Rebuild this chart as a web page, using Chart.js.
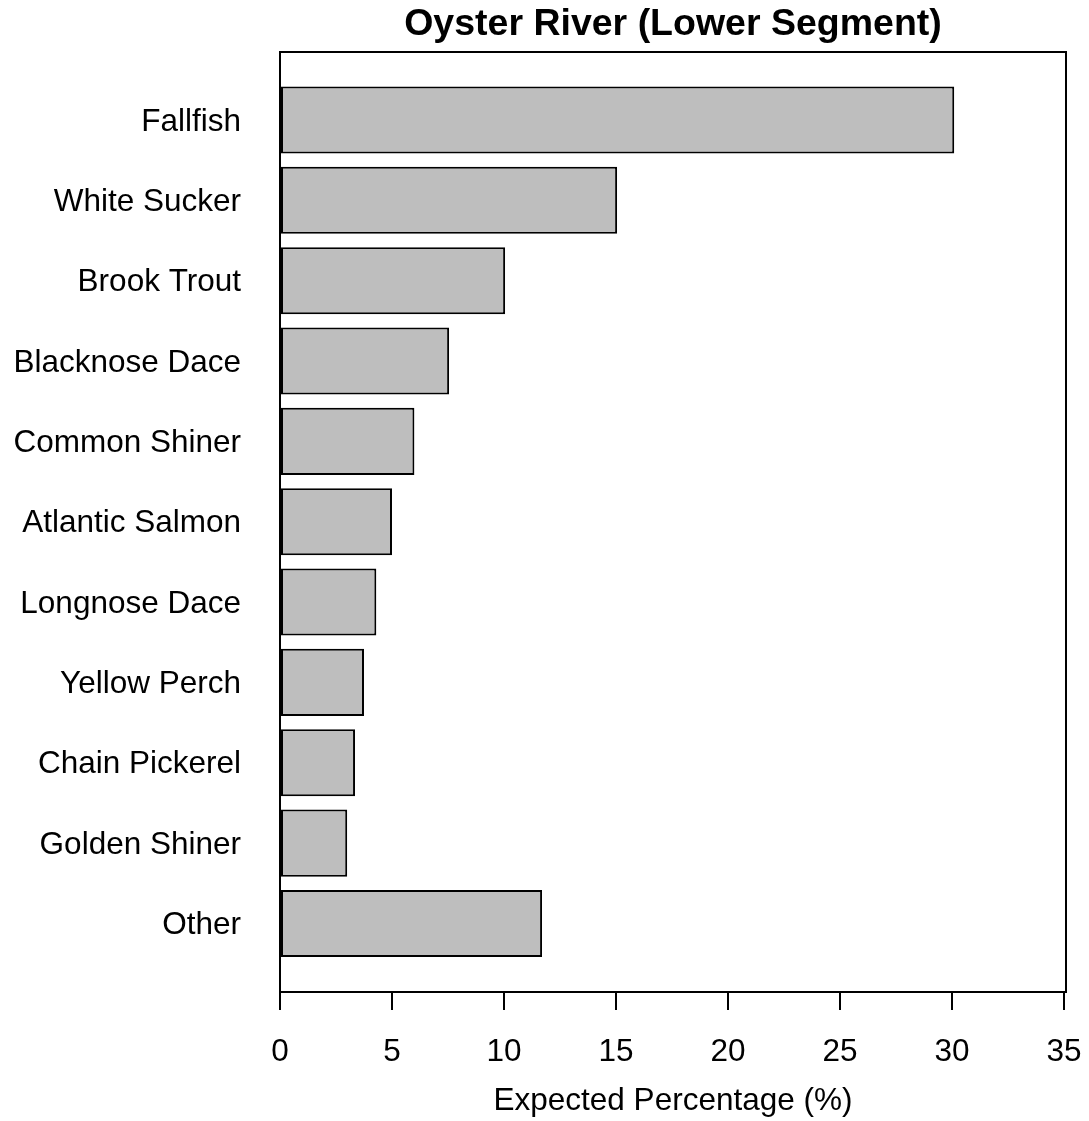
<!DOCTYPE html>
<html>
<head>
<meta charset="utf-8">
<script src="https://cdn.jsdelivr.net/npm/chart.js@4.4.0/dist/chart.umd.min.js"></script>
<style>
  html, body { margin: 0; padding: 0; background: #ffffff; }
  #wrap { width: 1089px; height: 1121px; }
</style>
</head>
<body>
<div id="wrap"><canvas id="c" width="1089" height="1121"></canvas></div>
<script>
// Species composition, lower segment of the Oyster River
const chartTitle = 'Oyster River (Lower Segment)';
const axisTitle = 'Expected Percentage (%)';
const species = [
  'Fallfish', 'White Sucker', 'Brook Trout', 'Blacknose Dace', 'Common Shiner',
  'Atlantic Salmon', 'Longnose Dace', 'Yellow Perch', 'Chain Pickerel',
  'Golden Shiner', 'Other'
];
const percentages = [30.1, 15.05, 10.05, 7.55, 6.0, 5.0, 4.3, 3.75, 3.35, 3.0, 11.7];
const xTicks = [0, 5, 10, 15, 20, 25, 30, 35];

const FONT = '"Liberation Sans", Arial, Helvetica, sans-serif';

// Scales should not push the plotting region inward for their end labels
function noEdgePadding(s) {
  s.paddingTop = 0;
  s.paddingBottom = 0;
  s.paddingLeft = 0;
  s.paddingRight = 0;
}

// Box around the plotting region plus the bold heading above it
const frameAndTitle = {
  id: 'frameAndTitle',
  afterDraw(chart) {
    const { ctx, chartArea: a } = chart;
    ctx.save();
    ctx.strokeStyle = '#000000';
    ctx.lineWidth = 2;
    ctx.strokeRect(a.left, a.top, a.right - a.left, a.bottom - a.top);
    ctx.fillStyle = '#000000';
    ctx.font = 'bold 37.5px ' + FONT;
    ctx.textAlign = 'center';
    ctx.textBaseline = 'middle';
    ctx.fillText(chartTitle, (a.left + a.right) / 2, 25);
    ctx.restore();
  }
};

new Chart(document.getElementById('c'), {
  type: 'bar',
  data: {
    datasets: [{
      data: percentages.map((v, i) => ({ x: v, y: i })),
      backgroundColor: '#bebebe',
      borderColor: '#000000',
      borderWidth: 2,
      borderSkipped: false,
      categoryPercentage: 1,
      barPercentage: 0.835
    }]
  },
  options: {
    indexAxis: 'y',
    responsive: false,
    animation: false,
    devicePixelRatio: 1,
    layout: { padding: { top: 52, right: 23, left: 0, bottom: 0 } },
    plugins: {
      legend: { display: false },
      title: { display: false },
      tooltip: { enabled: false }
    },
    scales: {
      x: {
        type: 'linear',
        position: 'bottom',
        offset: false,
        min: 0,
        max: 35.09,
        afterBuildTicks: s => { s.ticks = xTicks.map(v => ({ value: v })); },
        afterFit: s => { s.height = 129; noEdgePadding(s); },
        border: { display: false },
        grid: {
          drawOnChartArea: false,
          drawTicks: true,
          tickLength: 18,
          tickColor: '#000000',
          color: '#000000',
          lineWidth: 2
        },
        ticks: {
          color: '#000000',
          font: { family: FONT, size: 31.5 },
          padding: 23,
          maxRotation: 0,
          autoSkip: false
        },
        title: {
          display: true,
          text: axisTitle,
          color: '#000000',
          font: { family: FONT, size: 31.5 },
          padding: { top: 0, bottom: 1 }
        }
      },
      y: {
        type: 'linear',
        position: 'left',
        offset: false,
        reverse: true,
        min: -0.846,
        max: 10.853,
        afterBuildTicks: s => { s.ticks = species.map((_, i) => ({ value: i })); },
        afterFit: s => { s.width = 280; noEdgePadding(s); },
        border: { display: false },
        grid: { display: false, drawTicks: false },
        ticks: {
          color: '#000000',
          font: { family: FONT, size: 31.5 },
          padding: 39,
          labelOffset: 2,
          autoSkip: false,
          callback: v => species[v]
        }
      }
    }
  },
  plugins: [frameAndTitle]
});
</script>
</body>
</html>
